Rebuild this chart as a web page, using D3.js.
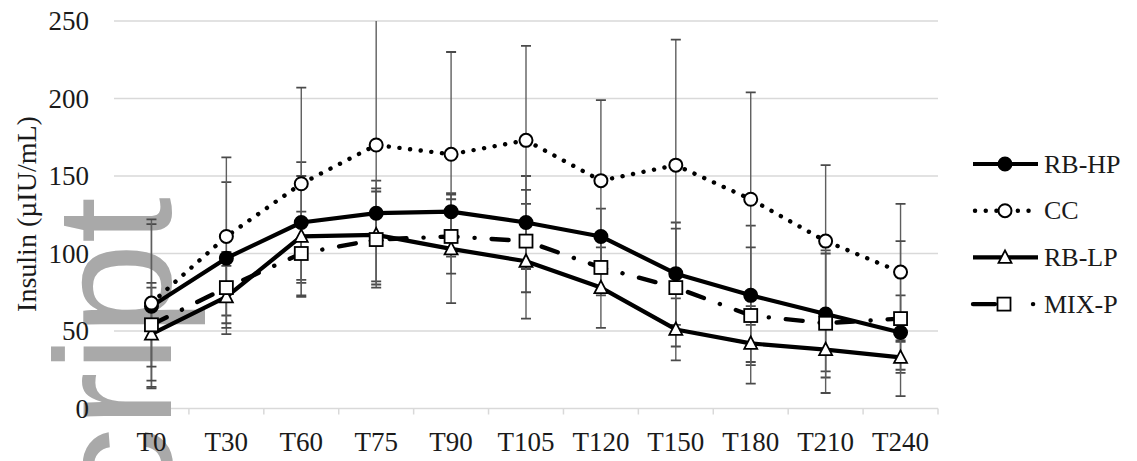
<!DOCTYPE html>
<html>
<head>
<meta charset="utf-8">
<script src="https://cdnjs.cloudflare.com/ajax/libs/d3/7.8.5/d3.min.js"></script>
<style>
  html, body { margin: 0; padding: 0; background: #fff; }
  svg { display: block; }
</style>
</head>
<body>
<div id="chart"></div>
<script>
// time points and tick labels
var categories = ["T0", "T30", "T60", "T75", "T90", "T105", "T120", "T150", "T180", "T210", "T240"];
var yTicks = [0, 50, 100, 150, 200, 250];

// series means and SDs (µIU/mL)
var rbHP   = [66, 97, 120, 126, 127, 120, 111, 87, 73, 61, 49];
var rbHPsd = [53, 49, 39, 21, 12, 30, 18, 33, 45, 41, 24];
var cc     = [68, 111, 145, 170, 164, 173, 147, 157, 135, 108, 88];
var ccSd   = [54, 51, 62, 90, 66, 61, 52, 81, 69, 49, 44];
var rbLP   = [48, 72, 111, 112, 103, 95, 78, 51, 42, 38, 33];
var rbLPsd = [30, 20, 39, 30, 35, 37, 26, 20, 12, 14, 10];
var mixP   = [54, 78, 100, 109, 111, 108, 91, 78, 60, 55, 58];
var mixPsd = [27, 23, 27, 31, 24, 33, 18, 38, 44, 45, 50];

var W = 1137, H = 461;
var margin = {top: 21, right: 200, bottom: 52, left: 114};
var plotW = 938 - margin.left,
    plotH = 408.5 - margin.top;

var series = [
  {name: "RB-HP", values: rbHP, sd: rbHPsd, marker: "circle", fill: "#000", dash: null, width: 4.2},
  {name: "CC", values: cc, sd: ccSd, marker: "circle", fill: "#fff", dash: "0.1,10.6", width: 4.4, cap: "round"},
  {name: "RB-LP", values: rbLP, sd: rbLPsd, marker: "triangle", fill: "#fff", dash: null, width: 4.2},
  {name: "MIX-P", values: mixP, sd: mixPsd, marker: "square", fill: "#fff", dash: "17,17,0.1,17", width: 4.4, cap: "round"}
];

var svg = d3.select("#chart").append("svg")
  .attr("width", W)
  .attr("height", H);

var x = d3.scalePoint()
  .domain(categories)
  .range([0, plotW])
  .padding(0.5);

var y = d3.scaleLinear()
  .domain([0, 250])
  .range([plotH, 0]);

var translate = "translate(" + margin.left + "," + margin.top + ")";

// grid layer (below the watermark)
var gridG = svg.append("g").attr("transform", translate);

gridG.selectAll(".grid")
  .data(yTicks)
  .enter().append("line")
  .attr("class", "grid")
  .attr("x1", 0)
  .attr("x2", plotW)
  .attr("y1", function (d) { return y(d); })
  .attr("y2", function (d) { return y(d); })
  .style("stroke", "#d9d9d9")
  .style("stroke-width", "1.5px");

// x axis tick marks at category boundaries
var step = x.step();
gridG.selectAll(".xTick")
  .data(d3.range(categories.length + 1))
  .enter().append("line")
  .attr("x1", function (d) { return d * step; })
  .attr("x2", function (d) { return d * step; })
  .attr("y1", plotH)
  .attr("y2", plotH + 6)
  .style("stroke", "#d9d9d9")
  .style("stroke-width", "1.5px");

// "Manuscript" watermark fragment, over the grid but under the data
svg.append("text")
  .attr("transform", "translate(171,197) rotate(-90)")
  .attr("text-anchor", "end")
  .style("font-family", "'Liberation Sans', Arial, sans-serif")
  .style("font-size", "166px")
  .attr("fill", "#a9a9a9")
  .text("script");

var g = svg.append("g").attr("transform", translate);

g.append("defs").append("clipPath").attr("id", "plotClip")
  .append("rect").attr("x", -20).attr("y", 0).attr("width", plotW + 40).attr("height", plotH + 20);

// y tick labels
g.selectAll(".yLabel")
  .data(yTicks)
  .enter().append("text")
  .attr("class", "yLabel")
  .attr("x", -25)
  .attr("y", function (d) { return y(d); })
  .attr("dy", "0.34em")
  .attr("text-anchor", "end")
  .style("font-family", "'Liberation Serif', 'Times New Roman', serif")
  .style("font-size", "27px")
  .attr("fill", "#1a1a1a")
  .text(function (d) { return d; });

// x labels
g.selectAll(".xLabel")
  .data(categories)
  .enter().append("text")
  .attr("x", function (d) { return x(d); })
  .attr("y", plotH + 42)
  .attr("text-anchor", "middle")
  .style("font-family", "'Liberation Serif', 'Times New Roman', serif")
  .style("font-size", "27px")
  .attr("fill", "#1a1a1a")
  .text(function (d) { return d; });

// y axis title
svg.append("text")
  .attr("transform", "translate(36,214) rotate(-90)")
  .attr("text-anchor", "middle")
  .style("font-family", "'Liberation Serif', 'Times New Roman', serif")
  .style("font-size", "28px")
  .attr("fill", "#1a1a1a")
  .text("Insulin (µIU/mL)");

// error bars
var errG = g.append("g").attr("clip-path", "url(#plotClip)");
series.forEach(function (s) {
  var pts = categories.map(function (c, i) {
    return {c: c, v: s.values[i], sd: s.sd[i]};
  });
  errG.selectAll(null)
    .data(pts)
    .enter().append("line")
    .attr("x1", function (d) { return x(d.c); })
    .attr("x2", function (d) { return x(d.c); })
    .attr("y1", function (d) { return y(d.v + d.sd); })
    .attr("y2", function (d) { return y(d.v - d.sd); })
    .style("stroke", "#5e5e5e")
    .style("stroke-width", "1.4px");
  [1, -1].forEach(function (sign) {
    errG.selectAll(null)
      .data(pts)
      .enter().append("line")
      .attr("x1", function (d) { return x(d.c) - 5; })
      .attr("x2", function (d) { return x(d.c) + 5; })
      .attr("y1", function (d) { return y(d.v + sign * d.sd); })
      .attr("y2", function (d) { return y(d.v + sign * d.sd); })
      .style("stroke", "#4a4a4a")
      .style("stroke-width", "1.8px");
  });
});

var line = d3.line()
  .x(function (d, i) { return x(categories[i]); })
  .y(function (d) { return y(d); });

// lines
series.forEach(function (s) {
  g.append("path")
    .attr("d", line(s.values))
    .style("fill", "none")
    .style("stroke", "#000")
    .style("stroke-width", s.width + "px")
    .style("stroke-dasharray", s.dash)
    .style("stroke-linecap", s.cap || "butt")
    .style("stroke-linejoin", "round");
});

function drawMarker(sel, type, fill) {
  if (type === "circle") {
    sel.append("circle")
      .attr("r", 6.5)
      .style("fill", fill)
      .style("stroke", "#000")
      .style("stroke-width", "2px");
  } else if (type === "square") {
    sel.append("rect")
      .attr("x", -6.5).attr("y", -6.5)
      .attr("width", 13).attr("height", 13)
      .style("fill", fill)
      .style("stroke", "#000")
      .style("stroke-width", "1.8px");
  } else {
    sel.append("path")
      .attr("d", "M0,-7L6.5,5.5L-6.5,5.5Z")
      .style("fill", fill)
      .style("stroke", "#000")
      .style("stroke-width", "1.8px");
  }
}

// markers
series.forEach(function (s) {
  var m = g.selectAll(null)
    .data(s.values)
    .enter().append("g")
    .attr("transform", function (d, i) {
      return "translate(" + x(categories[i]) + "," + y(d) + ")";
    });
  drawMarker(m, s.marker, s.fill);
});

// legend
var legend = svg.append("g").attr("transform", "translate(973,164)");
series.forEach(function (s, i) {
  var row = legend.append("g").attr("transform", "translate(0," + (i * 46.7) + ")");
  if (s.name === "CC") {
    row.append("line")
      .attr("x1", 2).attr("x2", 66)
      .style("stroke", "#000").style("stroke-width", "4.4px")
      .style("stroke-dasharray", "0.1,10.6").style("stroke-linecap", "round");
  } else if (s.name === "MIX-P") {
    row.append("line").attr("x1", 0).attr("x2", 22)
      .style("stroke", "#000").style("stroke-width", "4.4px").style("stroke-linecap", "round");
    row.append("line").attr("x1", 60).attr("x2", 60.1)
      .style("stroke", "#000").style("stroke-width", "4.4px").style("stroke-linecap", "round");
  } else {
    row.append("line")
      .attr("x1", 0).attr("x2", 65)
      .style("stroke", "#000").style("stroke-width", s.width + "px");
  }
  var mk = row.append("g").attr("transform", "translate(" + (s.name === "MIX-P" ? 31 : 32) + ",0)");
  drawMarker(mk, s.marker, s.fill);
  row.append("text")
    .attr("x", 71)
    .attr("y", 0)
    .attr("dy", "0.33em")
    .style("font-family", "'Liberation Serif', 'Times New Roman', serif")
    .style("font-size", "26px")
    .attr("fill", "#1a1a1a")
    .text(s.name);
});
</script>
</body>
</html>
